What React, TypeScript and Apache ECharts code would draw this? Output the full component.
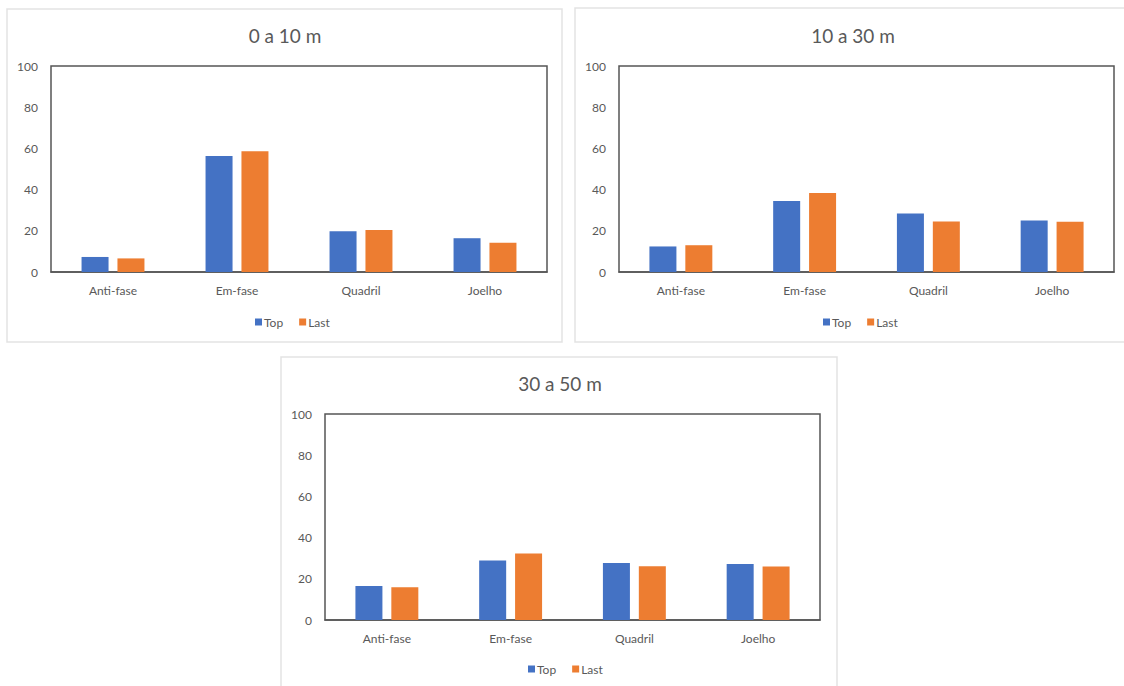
import React, { useEffect, useRef } from "react";
import * as echarts from "echarts";

const categories = ["Anti-fase", "Em-fase", "Quadril", "Joelho"];
const seriesNames = ["Top", "Last"];
const panelTitles = ["0 a 10 m", "10 a 30 m", "30 a 50 m"];

// values per distance range
const top0a10 = [7.3, 56.3, 19.8, 16.4];
const last0a10 = [6.6, 58.6, 20.4, 14.2];
const top10a30 = [12.4, 34.5, 28.4, 25.0];
const last10a30 = [13.0, 38.3, 24.5, 24.4];
const top30a50 = [16.5, 28.9, 27.7, 27.2];
const last30a50 = [15.9, 32.3, 26.1, 26.0];

const yTicks = { min: 0, max: 100, interval: 20 };

const BLUE = "#4472C4";
const ORANGE = "#ED7D31";
const TEXT = "#595959";
const FONT = "Lato, 'Open Sans', sans-serif";

// panel frames and plot rectangles (px)
const panels = [
  { frame: [7, 9, 555, 333], plot: [51, 66, 496, 206], title: [285, 35], legend: [250, 311] },
  { frame: [575, 8, 560, 334], plot: [619, 66, 495, 206], title: [853, 35], legend: [818, 311] },
  { frame: [281, 357, 556, 340], plot: [325, 414, 495, 206], title: [560, 383], legend: [523, 658] },
];

const dataSets = [
  [top0a10, last0a10],
  [top10a30, last10a30],
  [top30a50, last30a50],
];

export default function App() {
  const ref = useRef<HTMLDivElement>(null);

  useEffect(() => {
    if (!ref.current) return;
    const chart = echarts.init(ref.current, undefined, { renderer: "svg" });

    const grids = panels.map((p) => ({
      left: p.plot[0],
      top: p.plot[1],
      width: p.plot[2],
      height: p.plot[3],
      show: true,
      borderColor: "#555555",
      borderWidth: 1.5,
      backgroundColor: "#ffffff",
      containLabel: false,
    }));

    const xAxes = panels.map((_, i) => ({
      type: "category" as const,
      gridIndex: i,
      data: categories,
      axisTick: { show: false },
      axisLine: { show: true, lineStyle: { color: "#555555", width: 1.5 } },
      axisLabel: { color: TEXT, fontSize: 12, fontFamily: FONT, margin: 12 },
    }));

    const yAxes = panels.map((_, i) => ({
      type: "value" as const,
      gridIndex: i,
      min: yTicks.min,
      max: yTicks.max,
      interval: yTicks.interval,
      splitLine: { show: false },
      axisLine: { show: false },
      axisTick: { show: false },
      axisLabel: { color: TEXT, fontSize: 12, fontFamily: FONT, margin: 13 },
    }));

    const series: any[] = [];
    dataSets.forEach((pair, i) => {
      pair.forEach((values, k) => {
        series.push({
          type: "bar",
          name: seriesNames[k],
          xAxisIndex: i,
          yAxisIndex: i,
          data: values,
          barWidth: 27,
          barGap: "33%",
          itemStyle: { color: k === 0 ? BLUE : ORANGE },
        });
      });
    });

    const legends = panels.map((p) => ({
      left: p.legend[0],
      top: p.legend[1],
      data: seriesNames,
      itemWidth: 7,
      itemHeight: 7,
      itemGap: 16,
      icon: "rect",
      textStyle: { color: TEXT, fontSize: 12, fontFamily: FONT, padding: [0, 0, 0, -3] },
      selectedMode: false,
    }));

    const graphics: any[] = [];
    panels.forEach((p, i) => {
      graphics.push({
        type: "rect",
        shape: { x: p.frame[0], y: p.frame[1], width: p.frame[2], height: p.frame[3] },
        style: { fill: "#ffffff", stroke: "#e3e3e3", lineWidth: 1.5 },
        z: -10,
        silent: true,
      });
      graphics.push({
        type: "text",
        x: p.title[0],
        y: p.title[1],
        style: {
          text: panelTitles[i],
          fill: TEXT,
          fontSize: 19,
          fontFamily: FONT,
          align: "center",
          verticalAlign: "middle",
        },
        z: 10,
      });
    });

    chart.setOption({
      animation: false,
      backgroundColor: "#ffffff",
      grid: grids,
      xAxis: xAxes,
      yAxis: yAxes,
      legend: legends,
      series,
      graphic: graphics,
    });

    return () => chart.dispose();
  }, []);

  return (
    <div
      ref={ref}
      style={{ position: "absolute", left: 0, top: 0, width: 1124, height: 686 }}
    />
  );
}
